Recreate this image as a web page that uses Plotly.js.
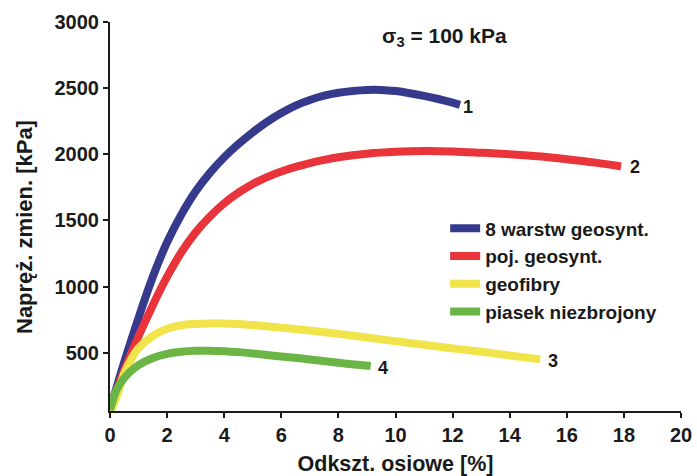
<!DOCTYPE html>
<html>
<head>
<meta charset="utf-8">
<script src="https://cdn.plot.ly/plotly-3.0.1.min.js"></script>
<style>html,body{margin:0;padding:0;background:#fff;}#chart{width:697px;height:476px;}</style>
</head>
<body>
<div id="chart"></div>
<script>
// Data
const seriesNames = ["8 warstw geosynt.", "poj. geosynt.", "geofibry", "piasek niezbrojony"];
const seriesColors = ["#363a8c", "#e8343a", "#f0e44a", "#6ab545"];

const blueX = [0, 0.5, 1, 1.5, 2, 2.5, 3, 3.5, 4, 4.5, 5, 5.5, 6, 6.5, 7, 7.5, 8, 8.5, 9, 9.5, 10, 10.5, 11, 11.5, 12, 12.26];
const blueY = [68, 430, 765, 1075, 1335, 1545, 1720, 1860, 1978, 2078, 2166, 2245, 2312, 2368, 2410, 2443, 2465, 2479, 2487, 2487, 2478, 2462, 2442, 2418, 2390, 2374];

const redX = [0, 0.5, 1, 1.5, 2, 2.5, 3, 3.5, 4, 4.5, 5, 5.5, 6, 6.5, 7, 7.5, 8, 9, 10, 11, 12, 13, 14, 15, 16, 17, 17.9];
const redY = [68, 370, 625, 860, 1075, 1260, 1410, 1530, 1630, 1710, 1776, 1828, 1870, 1905, 1934, 1958, 1978, 2005, 2019, 2025, 2022, 2012, 2000, 1985, 1963, 1937, 1908];

const yellowX = [0.03, 0.25, 0.5, 0.75, 1, 1.5, 2, 2.5, 3, 3.5, 4, 4.5, 5, 6, 7, 8, 9, 10, 11, 12, 13, 14, 15.07];
const yellowY = [62, 180, 345, 455, 535, 628, 682, 708, 718, 722, 722, 718, 710, 690, 668, 643, 615, 588, 560, 533, 508, 480, 450];

const greenX = [0, 0.25, 0.5, 0.75, 1, 1.5, 2, 2.5, 3, 3.5, 4, 4.5, 5, 6, 7, 8, 9.13];
const greenY = [68, 230, 310, 365, 407, 460, 492, 508, 515, 516, 512, 505, 495, 472, 450, 425, 400];

const curveLabels = ["1", "2", "3", "4"];
const curveLabelX = [12.55, 18.4, 15.5, 9.55];
const curveLabelY = [2360, 1905, 435, 385];

const xTicks = [0, 2, 4, 6, 8, 10, 12, 14, 16, 18, 20];
const yTicks = [500, 1000, 1500, 2000, 2500, 3000];

const FONT = "Liberation Sans, Arial, Helvetica, sans-serif";
const INK = "#1a1a1a";

const xs = [blueX, redX, yellowX, greenX];
const ys = [blueY, redY, yellowY, greenY];

const traces = xs.map((x, i) => ({
  x: x, y: ys[i], type: "scatter", mode: "lines",
  name: seriesNames[i],
  line: {color: seriesColors[i], width: 8, shape: "spline", smoothing: 1},
  hoverinfo: "skip"
}));

const annotations = curveLabels.map((t, i) => ({
  x: curveLabelX[i], y: curveLabelY[i], xref: "x", yref: "y",
  text: t, showarrow: false, xanchor: "center", yanchor: "middle",
  font: {family: FONT, size: 18, color: INK, weight: "bold"}
}));
annotations.push({
  x: 0.585, y: 1.0, xref: "paper", yref: "paper", xanchor: "center", yanchor: "top",
  text: "σ<sub>3</sub> = 100 kPa", showarrow: false,
  font: {family: FONT, size: 21, color: INK, weight: "bold"}
});
annotations.push({
  x: -0.1506, y: 0.473, xref: "paper", yref: "paper", xanchor: "center", yanchor: "middle",
  text: "Napręż. zmien. [kPa]", textangle: -90, showarrow: false,
  font: {family: FONT, size: 22, color: INK, weight: "bold"}
});

const layout = {
  width: 697, height: 476,
  margin: {l: 110, r: 16, t: 22, b: 65},
  paper_bgcolor: "#fff", plot_bgcolor: "#fff",
  showlegend: true,
  legend: {
    x: 0.587, y: 0.518, xanchor: "left", yanchor: "top",
    font: {family: FONT, size: 19, color: INK, weight: "bold"},
    bgcolor: "rgba(0,0,0,0)", tracegroupgap: 0, itemwidth: 30
  },
  xaxis: {
    range: [0, 20], tickvals: xTicks, ticktext: xTicks.map(String),
    showgrid: false, zeroline: false, showline: true, linecolor: INK, linewidth: 2,
    ticks: "outside", ticklen: 5, tickwidth: 2, tickcolor: INK,
    tickfont: {family: FONT, size: 20, color: INK, weight: "bold"},
    title: {text: "Odkszt. osiowe [%]", standoff: 11, font: {family: FONT, size: 21.5, color: INK, weight: "bold"}}
  },
  yaxis: {
    range: [60, 3000], tickvals: yTicks, ticktext: yTicks.map(String),
    showgrid: false, zeroline: false, showline: true, linecolor: INK, linewidth: 2,
    ticks: "outside", ticklen: 5, tickwidth: 2, tickcolor: INK,
    tickfont: {family: FONT, size: 20, color: INK, weight: "bold"}
  },
  annotations: annotations
};

Plotly.newPlot("chart", traces, layout, {displayModeBar: false, staticPlot: true});
</script>
</body>
</html>
